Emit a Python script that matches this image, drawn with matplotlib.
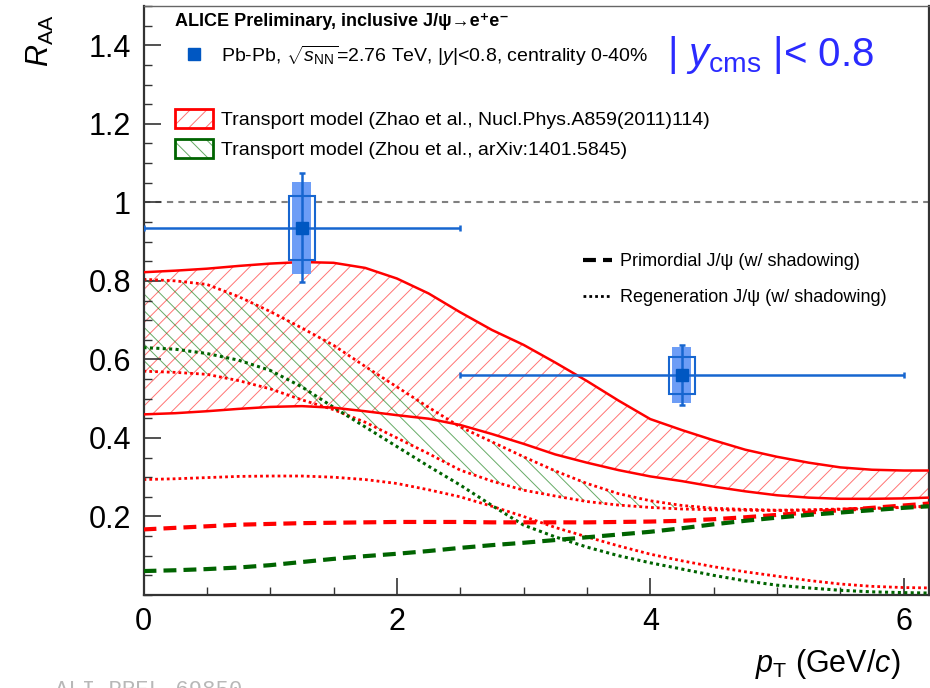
import numpy as np
import matplotlib
matplotlib.use('Agg')
import matplotlib.pyplot as plt
from matplotlib.lines import Line2D
from matplotlib.patches import Patch
from matplotlib.ticker import MultipleLocator

plt.rcParams['font.family'] = ['Liberation Sans', 'DejaVu Sans']
plt.rcParams['mathtext.fontset'] = 'custom'
plt.rcParams['mathtext.rm'] = 'Liberation Sans'
plt.rcParams['mathtext.it'] = 'Liberation Sans:italic'
plt.rcParams['mathtext.bf'] = 'Liberation Sans:bold'
plt.rcParams['hatch.linewidth'] = 0.7

# ---------------- data ----------------
pt_center = [1.25, 4.25]
pt_low = [0.0, 2.5]
pt_high = [2.5, 6.0]
raa = [0.935, 0.56]
stat_err = [0.139, 0.077]
syst_uncorr = [0.081, 0.047]
syst_corr = [0.118, 0.071]

model_pt = [0.0, 0.25, 0.5, 0.75, 1.0, 1.25, 1.5, 1.75, 2.0, 2.25, 2.5, 2.75, 3.0,
            3.25, 3.5, 3.75, 4.0, 4.25, 4.5, 4.75, 5.0, 5.25, 5.5, 5.75, 6.0, 6.2]
zhao_upper = [0.822, 0.826, 0.831, 0.838, 0.844, 0.848, 0.846, 0.833, 0.806, 0.768, 0.720, 0.675, 0.637,
              0.592, 0.545, 0.495, 0.448, 0.420, 0.394, 0.370, 0.352, 0.337, 0.325, 0.319, 0.317, 0.317]
zhao_lower = [0.460, 0.463, 0.468, 0.474, 0.479, 0.481, 0.477, 0.468, 0.458, 0.449, 0.433, 0.410, 0.385,
              0.358, 0.337, 0.318, 0.302, 0.290, 0.276, 0.264, 0.254, 0.248, 0.245, 0.245, 0.246, 0.248]
zhou_upper = [0.804, 0.800, 0.791, 0.760, 0.722, 0.680, 0.636, 0.582, 0.530, 0.478, 0.428, 0.390, 0.352,
              0.316, 0.284, 0.258, 0.240, 0.228, 0.221, 0.218, 0.216, 0.217, 0.219, 0.221, 0.224, 0.226]
zhou_lower = [0.570, 0.567, 0.562, 0.546, 0.525, 0.497, 0.472, 0.440, 0.400, 0.360, 0.318, 0.290, 0.267,
              0.252, 0.238, 0.229, 0.223, 0.219, 0.217, 0.216, 0.215, 0.216, 0.218, 0.220, 0.223, 0.225]
zhao_regen = [0.294, 0.296, 0.299, 0.302, 0.303, 0.303, 0.300, 0.294, 0.284, 0.268, 0.250, 0.226, 0.200,
              0.172, 0.148, 0.125, 0.104, 0.087, 0.072, 0.059, 0.048, 0.037, 0.028, 0.022, 0.019, 0.018]
zhou_regen = [0.630, 0.626, 0.615, 0.598, 0.572, 0.530, 0.478, 0.428, 0.378, 0.328, 0.280, 0.228, 0.178,
              0.148, 0.122, 0.100, 0.082, 0.066, 0.050, 0.036, 0.025, 0.018, 0.012, 0.008, 0.006, 0.005]
zhao_prim = [0.167, 0.171, 0.175, 0.179, 0.181, 0.183, 0.184, 0.185, 0.186, 0.186, 0.186, 0.185, 0.185,
             0.185, 0.185, 0.186, 0.187, 0.189, 0.193, 0.198, 0.204, 0.210, 0.216, 0.222, 0.228, 0.233]
zhou_prim = [0.061, 0.063, 0.066, 0.070, 0.076, 0.084, 0.092, 0.099, 0.105, 0.112, 0.120, 0.127, 0.133,
             0.140, 0.147, 0.154, 0.161, 0.170, 0.180, 0.189, 0.197, 0.204, 0.210, 0.216, 0.222, 0.226]

x_ticks = [0, 2, 4, 6]
y_ticks = [0.2, 0.4, 0.6, 0.8, 1.0, 1.2, 1.4]
y_ticklabels = ['0.2', '0.4', '0.6', '0.8', '1', '1.2', '1.4']

# ---------------- styles ----------------
RED = '#ff0000'
GREEN = '#006400'
BLUE = '#1766d0'
DARKBLUE = '#0057c2'
LIGHTBLUE = '#6d9df6'
DOT = (0, (1.0, 1.1))
DASH = (0, (3.1, 1.7))

fig = plt.figure(figsize=(9.3, 6.88), dpi=100)
ax = fig.add_axes([143.5 / 930, 93 / 688, 785.5 / 930, 589 / 688])
ax.set_xlim(0, 6.2)
ax.set_ylim(0, 1.5)

# bands
ax.fill_between(model_pt, zhao_lower, zhao_upper, facecolor='none',
                edgecolor=(1, 0, 0, 0.55), hatch='//', lw=0, zorder=1)
ax.fill_between(model_pt, zhou_lower, zhou_upper, facecolor='none',
                edgecolor=(0, 0.45, 0, 0.6), hatch='\\\\', lw=0, zorder=1.5)
ax.plot(model_pt, zhao_upper, color=RED, lw=1.8, zorder=3)
ax.plot(model_pt, zhao_lower, color=RED, lw=1.8, zorder=3)
ax.plot(model_pt, zhou_upper, color=RED, lw=2.0, ls=DOT, zorder=2.5)
ax.plot(model_pt, zhou_lower, color=RED, lw=2.0, ls=DOT, zorder=2.5)
ax.plot(model_pt, zhao_regen, color=RED, lw=2.0, ls=DOT, zorder=2.5)
ax.plot(model_pt, zhou_regen, color=GREEN, lw=2.2, ls=DOT, zorder=2.6)
ax.plot(model_pt, zhao_prim, color=RED, lw=3.0, ls=DASH, zorder=2.7)
ax.plot(model_pt, zhou_prim, color=GREEN, lw=3.0, ls=DASH, zorder=2.7)
ax.axhline(1.0, color='#808080', lw=1.5, ls=(0, (3, 2.5)), zorder=0.5)

# data
x = np.array(pt_center)
y = np.array(raa)
corr = np.array(syst_corr)
unc = np.array(syst_uncorr)
ax.bar(x, 2 * corr, bottom=y - corr, width=0.15, color=LIGHTBLUE, lw=0, zorder=5)
ax.bar(x, 2 * unc, bottom=y - unc, width=0.2, facecolor='none', edgecolor=BLUE, lw=1.5, zorder=6)
ax.errorbar(x, y, xerr=[x - np.array(pt_low), np.array(pt_high) - x], yerr=stat_err,
            fmt='none', ecolor=BLUE, elinewidth=1.8, capsize=2.5, capthick=1.8, zorder=7)
ax.plot(x, y, 's', color=DARKBLUE, ms=9, zorder=8)

# axes styling
ax.set_xticks(x_ticks)
ax.set_xticklabels([str(t) for t in x_ticks])
ax.set_yticks(y_ticks)
ax.set_yticklabels(y_ticklabels)
ax.xaxis.set_minor_locator(MultipleLocator(0.5))
ax.yaxis.set_minor_locator(MultipleLocator(0.05))
ax.tick_params(which='major', direction='in', length=12, width=1.2, labelsize=22, color='#333333')
ax.tick_params(which='minor', direction='in', length=6, width=1.0, color='#333333')
ax.tick_params(axis='x', which='major', pad=9)
ax.tick_params(axis='y', which='major', pad=9)
for side in ['left', 'bottom', 'right']:
    ax.spines[side].set_linewidth(1.6)
    ax.spines[side].set_color('#333333')
ax.spines['top'].set_linewidth(1.0)
ax.spines['top'].set_color('#666666')

ax.set_ylabel(r'$R_{\rm AA}$', fontsize=22, loc='top')
ax.yaxis.set_label_coords(-0.112, 0.986)
ax.set_xlabel(r'$p_{\rm T}$ (GeV/$c$)', fontsize=22, loc='right')
ax.xaxis.set_label_coords(0.963, -0.088)

# texts
ax.text(0.040, 0.974, 'ALICE Preliminary, inclusive J/ψ→e⁺e⁻', transform=ax.transAxes,
        fontsize=13, fontweight='bold', va='center', ha='left')
ax.text(0.666, 0.917, r'| $y_{\rm cms}$ |< 0.8', transform=ax.transAxes,
        fontsize=29, color='#2b2bff', va='center', ha='left')

h_data = Line2D([], [], marker='s', ls='none', color=DARKBLUE, ms=9)
h_empty = Line2D([], [], ls='none')
h_zhao = (Patch(facecolor='none', edgecolor=(1, 0, 0, 0.55), hatch='//', lw=0),
          Patch(facecolor='none', edgecolor=RED, lw=2))
h_zhou = (Patch(facecolor='none', edgecolor=(0, 0.45, 0, 0.6), hatch='\\\\', lw=0),
          Patch(facecolor='none', edgecolor=GREEN, lw=2))
leg1 = ax.legend([h_data, h_empty, h_zhao, h_zhou],
                 [r'Pb-Pb, $\sqrt{s_{\rm NN}}$=2.76 TeV, |$y$|<0.8, centrality 0-40%', ' ',
                  'Transport model (Zhao et al., Nucl.Phys.A859(2011)114)',
                  'Transport model (Zhou et al., arXiv:1401.5845)'],
                 loc='upper left', bbox_to_anchor=(0.040, 0.935), frameon=False,
                 fontsize=14, borderpad=0, borderaxespad=0, handlelength=1.95,
                 handleheight=1.13, handletextpad=0.4, labelspacing=0.52)
ax.add_artist(leg1)

h_prim = Line2D([], [], color='black', lw=3.0, ls=DASH)
h_reg = Line2D([], [], color='black', lw=2.0, ls=DOT)
ax.legend([h_prim, h_reg], ['Primordial J/ψ (w/ shadowing)', 'Regeneration J/ψ (w/ shadowing)'],
          loc='upper left', bbox_to_anchor=(0.5595, 0.580), frameon=False, fontsize=13,
          borderpad=0, borderaxespad=0, handlelength=1.6, handletextpad=0.44, labelspacing=1.05)

fig.text(55 / 930, 8 / 688, 'ALI-PREL-69850', family='Liberation Mono', fontsize=16,
         color='#b8b8b8', va='top', ha='left')

fig.savefig('out.png', dpi=100)
